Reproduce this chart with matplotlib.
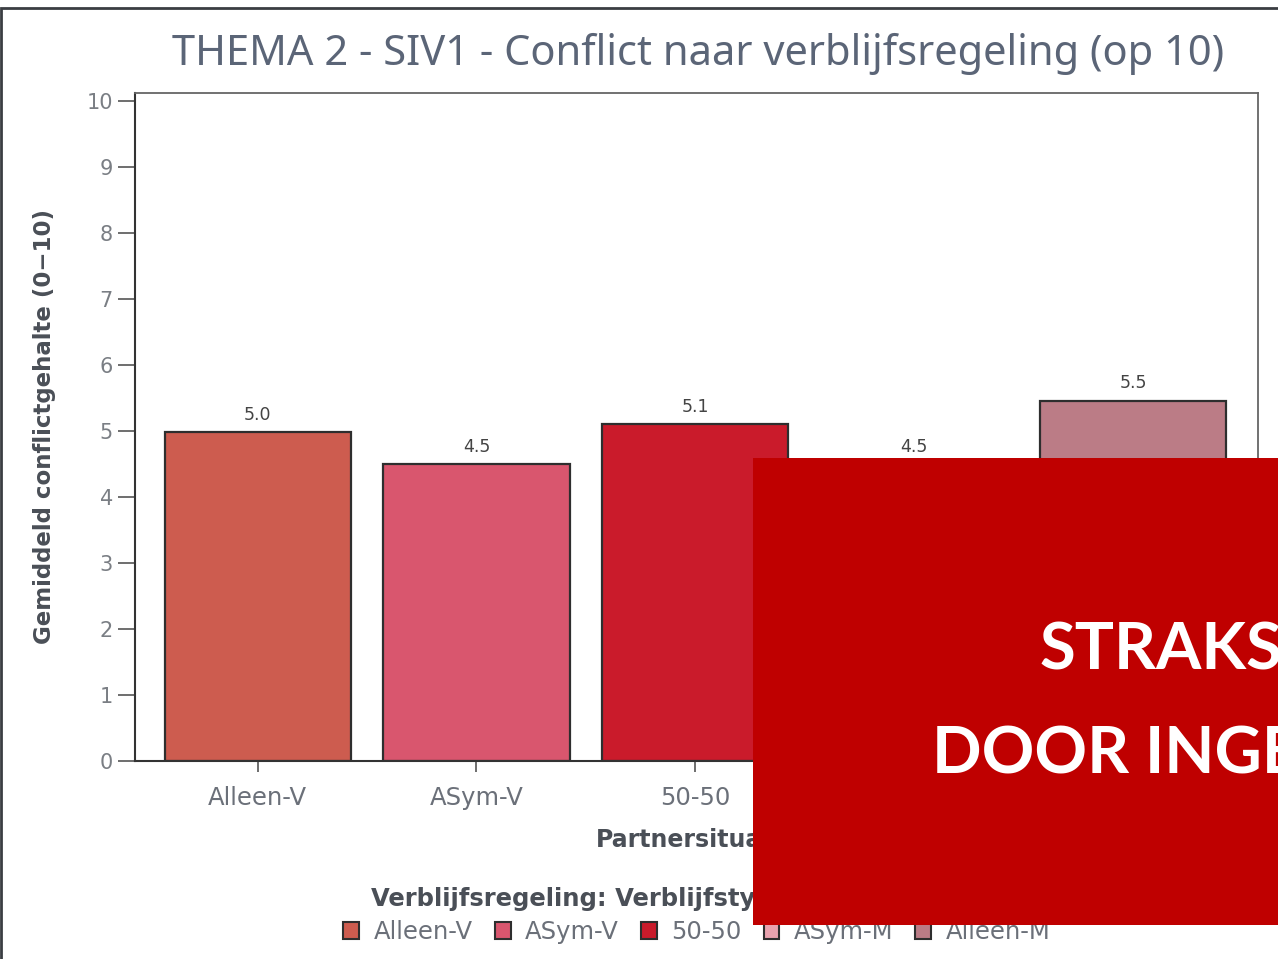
import matplotlib.pyplot as plt
from matplotlib.patches import Rectangle, Patch

categories = ["Alleen-V", "ASym-V", "50-50", "ASym-M", "Alleen-M"]
values = [4.98, 4.5, 5.1, 4.5, 5.46]
colours = ["#cd5c4f", "#d9566e", "#ca1b2b", "#e9a2ae", "#bb7c86"]
yticks = list(range(0, 11))

W, H = 1278, 959
fig = plt.figure(figsize=(W / 100, H / 100), dpi=100)

# outer frame (only left and top edge visible)
fig.patches.append(Rectangle((1 / W, -0.1), 1.2, 1 - 8 / H + 0.1,
                             transform=fig.transFigure, fill=False,
                             edgecolor="#3a3d42", linewidth=2, zorder=0))

ax = fig.add_axes([135 / W, 1 - 761 / H, (1258 - 135) / W, (761 - 93) / H])
ax.set_xlim(-0.56, 4.57)
ax.set_ylim(0, (761 - 93) / 66)

bars = ax.bar(range(len(categories)), values, width=0.85, color=colours,
              edgecolor="#2e2e2e", linewidth=1.6)
for x, v in zip(range(len(categories)), values):
    ax.annotate(f"{v:.1f}", (x, v), xytext=(0, 6), textcoords="offset points",
                ha="center", va="bottom", fontsize=12.5, color="#444444")

ax.set_xticks(range(len(categories)), categories)
ax.set_yticks(yticks)
ax.tick_params(axis="x", length=8, width=1.2, color="#555555",
               labelsize=17.5, labelcolor="#6b7079", pad=10)
ax.tick_params(axis="y", length=12, width=1.2, color="#555555",
               labelsize=15, labelcolor="#7a7e84", pad=4)
for side in ["top", "right"]:
    ax.spines[side].set_color("#666666")
    ax.spines[side].set_linewidth(1.3)
for side in ["left", "bottom"]:
    ax.spines[side].set_color("#333333")
    ax.spines[side].set_linewidth(1.5)

ax.set_ylabel("Gemiddeld conflictgehalte (0\u221210)", fontsize=16.5,
              fontweight="bold", color="#4a4f57", labelpad=22)
ax.set_xlabel("Partnersituatie", fontsize=17, fontweight="bold",
              color="#4a4f57", labelpad=13)

fig.text(698 / W, 1 - 54 / H, "THEMA 2 - SIV1 - Conflict naar verblijfsregeling (op 10)",
         ha="center", va="center", fontsize=30, color="#5b6577",
         family="Noto Sans")

fig.text(371 / W, 1 - 899 / H, "Verblijfsregeling: Verblijfstype",
         ha="left", va="center", fontsize=17.5, fontweight="bold", color="#4a4f57")

handles = [Patch(facecolor=c, edgecolor="#2e2e2e", linewidth=1.5) for c in colours]
leg = fig.legend(handles, categories, loc="center", ncol=5,
                 bbox_to_anchor=(697 / W, 1 - 932 / H), frameon=False,
                 fontsize=17.5, handlelength=0.65, handleheight=0.65,
                 handletextpad=0.6, columnspacing=0.9, borderpad=0)
for t in leg.get_texts():
    t.set_color("#6b7079")

# overlay banner
fig.patches.append(Rectangle((753 / W, 1 - 925 / H), 1.0, 467 / H,
                             transform=fig.transFigure, facecolor="#bf0000",
                             edgecolor="none", zorder=10))
fig.text(1040 / W, 1 - 670 / H, "STRAKS", ha="left", va="baseline",
         fontsize=47, fontweight="bold", family="Lato", color="white", zorder=11)
fig.text(932 / W, 1 - 773 / H, "DOOR INGE", ha="left", va="baseline",
         fontsize=47, fontweight="bold", family="Lato", color="white", zorder=11)

fig.savefig("out.png", dpi=100)
